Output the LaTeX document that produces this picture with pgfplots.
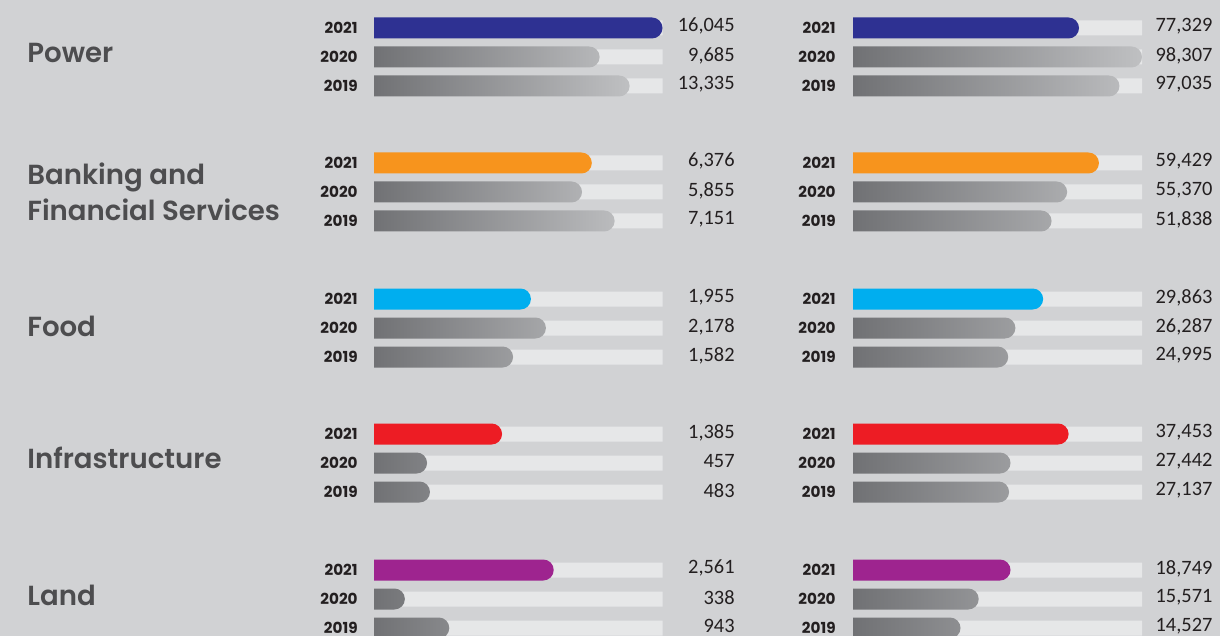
\documentclass[border=0pt]{standalone}
\usepackage{pgfplots}
\pgfplotsset{compat=1.18}
\usepackage{fontspec}
\setmainfont{Carlito}
\newfontfamily\catfont{Poppins SemiBold}
\newfontfamily\yrfont{Poppins}

\definecolor{bgc}{HTML}{D1D2D4}
\definecolor{trackc}{HTML}{E6E7E8}
\definecolor{gdark}{HTML}{6D6E71}
\definecolor{glight}{HTML}{BFC0C2}
\definecolor{cpow}{HTML}{2E3192}
\definecolor{cbank}{HTML}{F7941D}
\definecolor{cfood}{HTML}{00AEEF}
\definecolor{cinf}{HTML}{ED1C24}
\definecolor{cland}{HTML}{9E248F}
\definecolor{txt}{HTML}{231F20}
\definecolor{catc}{HTML}{4D4D4F}

% 1 px of the reference = 0.5pt; bar lengths in % of the track
% x runs 0..104, the first 4 units are clipped off so the bars start flat
\pgfplotsset{
  panel/.style={
    scale only axis, height=318pt, anchor=south west,
    ymin=0, ymax=636, y dir=reverse,
    axis line style={draw=none}, major tick length=0pt,
    xtick=\empty,
    ytick={28,57,86,163,192,221,299,328,357,434,463,492,570,599,628},
  },
  bars/.style={panel, xmin=0, xmax=104, x filter/.expression={x+4}},
  years/.style={
    yticklabels={2021,2020,2019,2021,2020,2019,2021,2020,2019,2021,2020,2019,2021,2020,2019},
    yticklabel style={font=\yrfont\bfseries\fontsize{7.6}{8}\selectfont, text=txt,
      anchor=east, inner sep=0pt, xshift=-#1},
  },
  vals/.style={
    panel, xmin=0, xmax=100, yticklabel pos=right,
    yticklabel style={font=\fontsize{10.2}{12}\selectfont, text=txt,
      anchor=east, inner sep=0pt, xshift=#1, yshift=0.8pt},
  },
  trk/.style={xbar, bar shift=0pt, bar width=15, fill=trackc, draw=none},
  new/.style={xbar, bar shift=0pt, bar width=21, draw=none, rounded corners=5.25pt, fill=#1},
  old/.style={xbar, bar shift=0pt, bar width=21, draw=none, rounded corners=5.25pt,
    left color=gdark, right color=glight},
}

\begin{document}
\begin{tikzpicture}
\fill[bgc] (0,0) rectangle (610pt,318pt);

% ---- left panel
\begin{axis}[bars, years=2.23pt, at={(181.23pt,0pt)}, width=150.02pt,
  extra y ticks={52.5,191.5,326,458,595},
  extra y tick labels={Power,{Banking and\\Financial Services},Food,Infrastructure,Land},
  extra y tick style={yticklabel style={font=\catfont\fontsize{13.8}{18}\selectfont,
    text=catc, anchor=west, align=left, xshift=-165.5pt}},
  ]
  \clip (axis cs:4,0) rectangle (axis cs:104,636);
  \addplot[trk] coordinates {(100,28) (100,57) (100,86) (100,163) (100,192) (100,221)
    (100,299) (100,328) (100,357) (100,434) (100,463) (100,492) (100,570) (100,599) (100,628)};
  \addplot[new=cpow]  coordinates {(100,28)};
  \addplot[new=cbank] coordinates {(75.5,163)};
  \addplot[new=cfood] coordinates {(54.4,299)};
  \addplot[new=cinf]  coordinates {(44.4,434)};
  \addplot[new=cland] coordinates {(62.3,570)};
  \addplot[old] coordinates {(78.2,57) (88.6,86) (72.1,192) (83.4,221) (59.6,328) (48.2,357)
    (18.4,463) (19.4,492) (10.7,599) (26.1,628)};
\end{axis}
\begin{axis}[vals=36.25pt, at={(187pt,0pt)}, width=144.25pt,
  yticklabels={{16,045},{9,685},{13,335},{6,376},{5,855},{7,151},{1,955},{2,178},{1,582},
    {1,385},{457},{483},{2,561},{338},{943}}]
\end{axis}

% ---- right panel
\begin{axis}[bars, years=2.72pt, at={(420.72pt,0pt)}, width=150.28pt]
  \clip (axis cs:4,0) rectangle (axis cs:104,636);
  \addplot[trk] coordinates {(100,28) (100,57) (100,86) (100,163) (100,192) (100,221)
    (100,299) (100,328) (100,357) (100,434) (100,463) (100,492) (100,570) (100,599) (100,628)};
  \addplot[new=cpow]  coordinates {(78.2,28)};
  \addplot[new=cbank] coordinates {(85.1,163)};
  \addplot[new=cfood] coordinates {(65.8,299)};
  \addplot[new=cinf]  coordinates {(74.6,434)};
  \addplot[new=cland] coordinates {(54.5,570)};
  \addplot[old] coordinates {(100,57) (92.2,86) (74.1,192) (68.7,221) (56.2,328) (53.7,357)
    (54.5,463) (54.0,492) (43.5,599) (37.2,628)};
\end{axis}
\begin{axis}[vals=35.4pt, at={(426.5pt,0pt)}, width=144.5pt,
  yticklabels={{77,329},{98,307},{97,035},{59,429},{55,370},{51,838},{29,863},{26,287},{24,995},
    {37,453},{27,442},{27,137},{18,749},{15,571},{14,527}}]
\end{axis}
\end{tikzpicture}
\end{document}
